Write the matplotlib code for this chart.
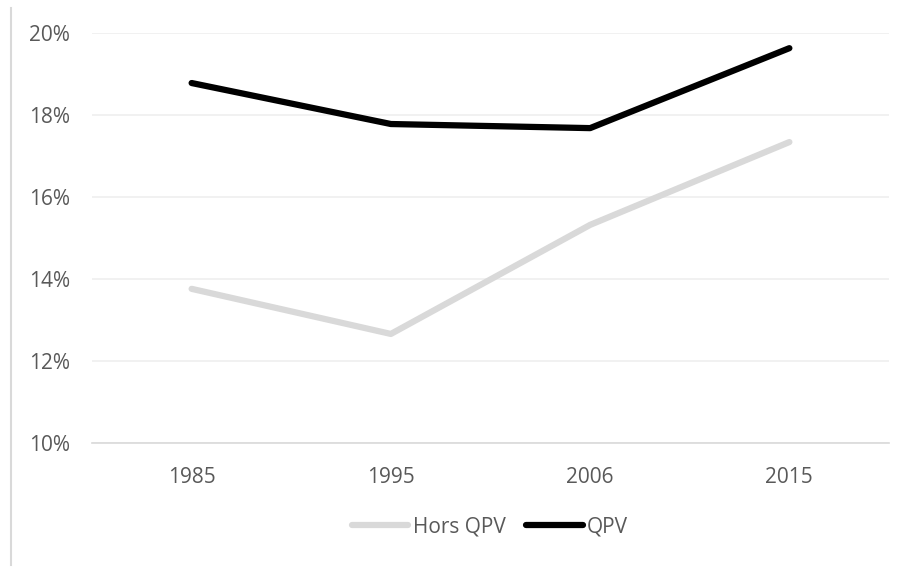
import matplotlib.pyplot as plt
from matplotlib.lines import Line2D
from matplotlib.ticker import FuncFormatter

years = ["1985", "1995", "2006", "2015"]
hors_qpv = [13.76, 12.66, 15.32, 17.34]
qpv = [18.78, 17.78, 17.68, 19.63]

plt.rcParams["font.family"] = ["Open Sans", "DejaVu Sans"]
txt = "#595959"

fig = plt.figure(figsize=(9.06, 5.69), dpi=100)
ax = fig.add_axes([92/906, 1-443/569, (889-92)/906, (443-33)/569])

x = range(len(years))
ax.plot(x, hors_qpv, color="#d9d9d9", lw=4.5, solid_capstyle="round", label="Hors QPV", zorder=3)
ax.plot(x, qpv, color="black", lw=4.5, solid_capstyle="round", label="QPV", zorder=3)

ax.set_xlim(-0.5, 3.5)
ax.set_ylim(10, 20)
ax.set_yticks([10, 12, 14, 16, 18, 20])
ax.yaxis.set_major_formatter(FuncFormatter(lambda v, p: f"{v:.0f}%"))
ax.set_xticks(list(x))
ax.set_xticklabels(years)
ax.grid(axis="y", color="#efefef", lw=1.2)
ax.set_axisbelow(True)
for s in ["top", "right", "left"]:
    ax.spines[s].set_visible(False)
ax.spines["bottom"].set_color("#d9d9d9")
ax.spines["bottom"].set_linewidth(1.2)
ax.tick_params(axis="both", length=0, labelsize=15, labelcolor=txt)
ax.tick_params(axis="y", pad=16)
ax.tick_params(axis="x", pad=17)

leg = fig.legend(loc="center", bbox_to_anchor=(490/906, 1-527/569), ncol=2, frameon=False,
                 fontsize=15, handlelength=2.7, handletextpad=0.2, columnspacing=1.0)
for t in leg.get_texts():
    t.set_color(txt)

# left border of the original chart frame
fig.add_artist(Line2D([11/906, 11/906], [1-565/569, 1-8/569], color="#d9d9d9", lw=1.5))

fig.savefig("out.png", dpi=100)
